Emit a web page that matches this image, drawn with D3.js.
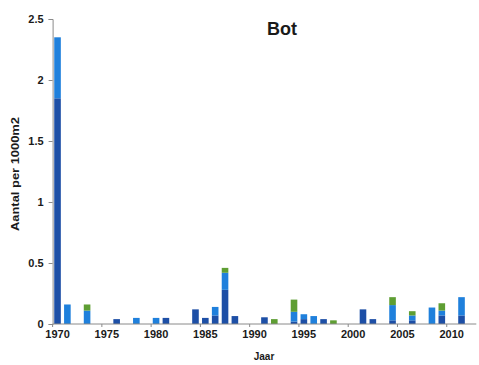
<!DOCTYPE html>
<html>
<head>
<meta charset="utf-8">
<script src="https://cdn.jsdelivr.net/npm/d3@7/dist/d3.min.js"></script>
<style>
  html, body { margin: 0; padding: 0; background: #ffffff; }
  svg { display: block; }
  text { font-family: "Liberation Sans Narrow", "Liberation Sans", Arial, sans-serif; fill: #1a1a1a; }
</style>
</head>
<body>
<script>
// ---- data ----
const years = d3.range(1970, 2013);
const darkBlue = [1.85,0,0,0,0,0,0.04,0,0,0,0,0.05,0,0,0.12,0.05,0.07,0.28,0.065,0,0,0.055,0,0,0.02,0.04,0,0.04,0,0,0,0.12,0.04,0,0.03,0,0.03,0,0,0.07,0,0.07,0];
const lightBlue = [0.5,0.16,0,0.11,0,0,0,0,0.05,0,0.05,0,0,0,0,0,0.07,0.14,0,0,0,0,0,0,0.08,0.04,0.065,0,0,0,0,0,0,0,0.125,0,0.04,0,0.135,0.04,0,0.15,0];
const green = [0,0,0,0.05,0,0,0,0,0,0,0,0,0,0,0,0,0,0.04,0,0,0,0,0.04,0,0.1,0,0,0,0.03,0,0,0,0,0,0.065,0,0.035,0,0,0.06,0,0,0];
const yTicks = [0, 0.5, 1, 1.5, 2, 2.5];
const xTickYears = [1970, 1975, 1980, 1985, 1990, 1995, 2000, 2005, 2010];
const seriesKeys = ["dark", "light", "green"];
const seriesColors = ["#1d4fa6", "#1f80dc", "#5e9e33"];

const W = 479, H = 365;
const svg = d3.select("body").append("svg").attr("width", W).attr("height", H);

const rows = years.map((yr, i) => ({ year: yr, dark: darkBlue[i], light: lightBlue[i], green: green[i] }));
const stacked = d3.stack().keys(seriesKeys)(rows);

const x = d3.scaleBand().domain(years).range([52.6, 476.3]).paddingInner(0.33).paddingOuter(0.165);
const y = d3.scaleLinear().domain([0, 2.5]).range([324, 19]);

// bars
svg.append("g").selectAll("g").data(stacked).join("g")
  .attr("fill", (d, i) => seriesColors[i])
  .selectAll("rect").data(d => d.filter(p => p[1] - p[0] > 0)).join("rect")
  .attr("x", d => x(d.data.year))
  .attr("width", x.bandwidth())
  .attr("y", d => y(d[1]))
  .attr("height", d => y(d[0]) - y(d[1]));

// y axis
const yAxis = svg.append("g").attr("transform", "translate(52.6,0)")
  .call(d3.axisLeft(y).tickValues(yTicks).tickSize(4).tickPadding(5).tickFormat(d3.format("")));
yAxis.select(".domain").attr("stroke", "#8a8a8a");
yAxis.selectAll(".tick line").attr("stroke", "#8a8a8a");
yAxis.selectAll(".tick text").attr("font-size", "11px").attr("font-weight", "bold").attr("fill", "#1a1a1a");

// x axis
const xg = svg.append("g").attr("transform", "translate(0,324)");
xg.append("line").attr("x1", 52.6).attr("x2", 476.3).attr("y1", 0).attr("y2", 0).attr("stroke", "#8a8a8a");
const step = x.step();
xg.selectAll("line.tk").data(xTickYears).join("line").attr("class", "tk")
  .attr("x1", d => x(d) + x.bandwidth() / 2 - step / 2)
  .attr("x2", d => x(d) + x.bandwidth() / 2 - step / 2)
  .attr("y1", 0).attr("y2", 3).attr("stroke", "#8a8a8a");
xg.selectAll("text").data(xTickYears).join("text")
  .attr("x", d => x(d) + x.bandwidth() / 2)
  .attr("y", 14)
  .attr("text-anchor", "middle")
  .attr("font-size", "11px")
  .attr("font-weight", "bold")
  .text(d => d);

// title
svg.append("text").attr("x", 282).attr("y", 35).attr("text-anchor", "middle")
  .style("font-family", "'Liberation Sans', Arial, sans-serif")
  .attr("font-size", "18px").attr("font-weight", "bold").text("Bot");

// axis titles
svg.append("text").attr("transform", "translate(18.5,174) rotate(-90)")
  .attr("text-anchor", "middle").attr("font-size", "10px").attr("font-weight", "bold")
  .attr("textLength", 114).attr("lengthAdjust", "spacingAndGlyphs")
  .text("Aantal per 1000m2");
svg.append("text").attr("x", 264).attr("y", 360).attr("text-anchor", "middle")
  .attr("font-size", "10px").attr("font-weight", "bold").text("Jaar");
</script>
</body>
</html>
